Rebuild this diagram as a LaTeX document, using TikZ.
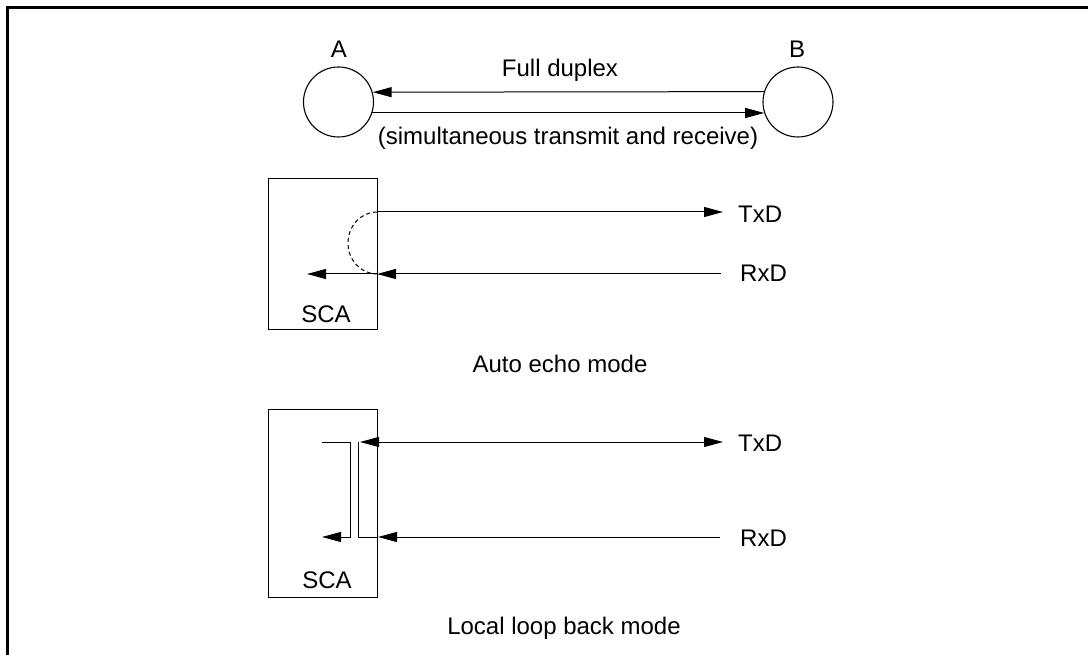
\documentclass[tikz,border=0pt]{standalone}
\usepackage{fontspec}
\setmainfont{Liberation Sans}
\usetikzlibrary{arrows.meta}
\begin{document}
\begin{tikzpicture}[x=1pt,y=-1pt,
  txt/.style={font=\fontsize{24}{28}\selectfont, inner sep=0pt},
  wire/.style={line width=1pt},
  tip/.style={wire,-{Triangle[length=19pt,width=10pt]}},
  both/.style={wire,{Triangle[length=19pt,width=10pt]}-{Triangle[length=19pt,width=10pt]}},
  station/.style={circle, draw, line width=1.1pt, minimum size=70pt, inner sep=0pt},
  chip/.style={draw, line width=1pt, inner sep=0pt}
]
\useasboundingbox (0,0) rectangle (1088,655);
% frame
\draw[line width=3pt] (7.5,655) -- (7.5,7.3) -- (1088,7.3);

% full duplex
\node[station] (A) at (338.5,102) {};
\node[station] (B) at (798,102) {};
\node[txt, anchor=base] (Alab) at (339,58) {A};
\node[txt, anchor=base] (Blab) at (797,58) {B};
\draw[tip] (B.163.4) -- (A.16.6);
\draw[tip] (A.-18.3) -- (B.198.3);
\node[txt, anchor=base] (fd) at (560,77) {Full duplex};
\node[txt, anchor=base] (str) at (568,145) {(simultaneous transmit and receive)};

% auto echo
\node[chip, minimum width=109pt, minimum height=151pt] (box1) at (322.5,254.5) {};
\node[txt, anchor=base] (sca1) at (326,323) {SCA};
\coordinate (e-tx) at (377,212);
\coordinate (e-txo) at (723,212);
\coordinate (e-rx) at (377,274);
\coordinate (e-rxo) at (721,274);
\coordinate (e-rxi) at (307,274);
\draw[tip] (e-tx) -- (e-txo);
\draw[tip] (e-rxo) -- (e-rx);
\draw[tip] (e-rx) -- (e-rxi);
\draw[wire, dashed, dash pattern=on 4pt off 3pt] (e-tx) arc[start angle=90, end angle=270, x radius=29pt, y radius=31pt];
\node[txt, anchor=base west] (etxl) at (738,223) {TxD};
\node[txt, anchor=base west] (erxl) at (740,282) {RxD};
\node[txt, anchor=base] (aem) at (560,373) {Auto echo mode};

% local loop back
\node[chip, minimum width=109pt, minimum height=188pt] (box2) at (322.5,503) {};
\node[txt, anchor=base] (sca2) at (327,588) {SCA};
\coordinate (l-txi) at (360,442);
\coordinate (l-txo) at (723,442);
\draw[both] (l-txi) -- (l-txo);
\coordinate (l-a) at (322,442);
\coordinate (l-b) at (350,442);
\coordinate (l-c) at (350,537);
\coordinate (l-d) at (322,537);
\draw[tip] (l-a) -- (l-b) -- (l-c) -- (l-d);
\coordinate (l-rxo) at (720,537);
\coordinate (l-rxe) at (378,537);
\coordinate (l-e) at (358,537);
\coordinate (l-f) at (358,442);
\draw[tip] (l-rxo) -- (l-rxe);
\draw[wire] (l-rxe) -- (l-e) -- (l-f);
\node[txt, anchor=base west] (ltxl) at (738,451) {TxD};
\node[txt, anchor=base west] (lrxl) at (740,546) {RxD};
\node[txt, anchor=base] (llm) at (564,634) {Local loop back mode};
\end{tikzpicture}
\end{document}
